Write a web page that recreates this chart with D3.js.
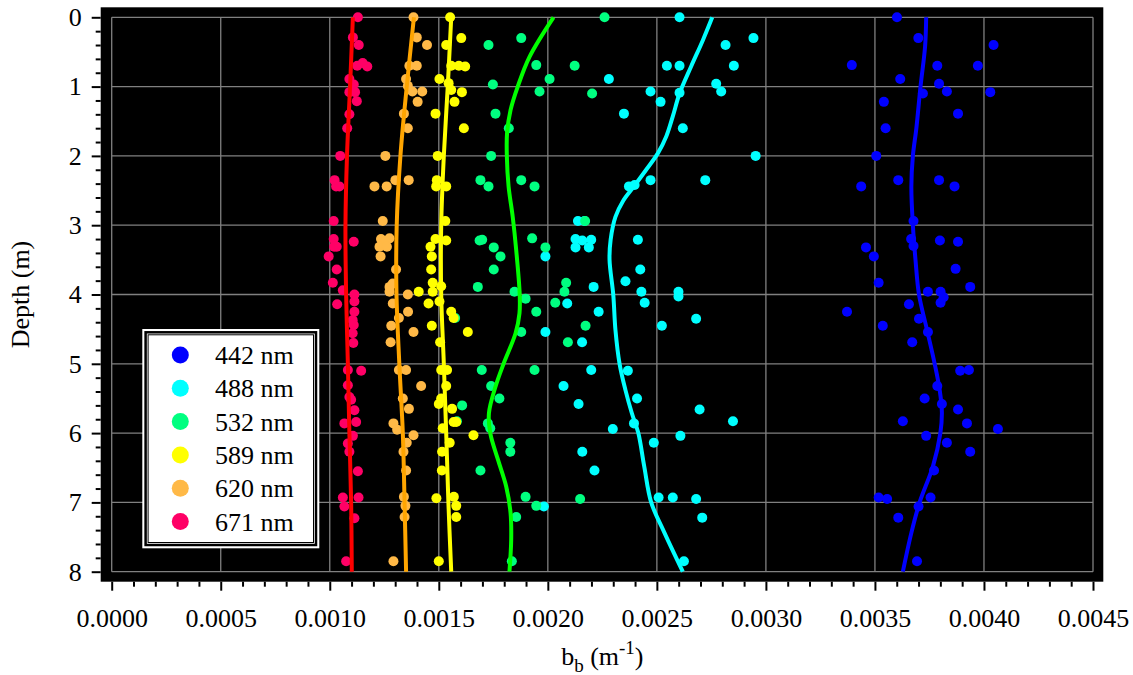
<!DOCTYPE html>
<html>
<head>
<meta charset="utf-8">
<script src="https://cdn.jsdelivr.net/npm/d3@7"></script>
<style>
  body { margin: 0; background: #ffffff; }
  svg text { font-family: "Liberation Serif", "Times New Roman", serif; fill: #000000; }
</style>
</head>
<body>
<script>
// b_b values are written in units of 1e-4 m^-1, depth in m: [depth, bb]
var BB_UNIT = 1e-4;

var wavelengths = ["442 nm", "488 nm", "532 nm", "589 nm", "620 nm", "671 nm"];
var pointColors = ["#0000ff", "#00ffff", "#00ff80", "#ffff00", "#ffb947", "#ff0066"];
var lineColors  = ["#0000ff", "#00ffff", "#00ff00", "#ffff00", "#ffa500", "#ff0000"];

var xTicks = [0, 0.0005, 0.0010, 0.0015, 0.0020, 0.0025, 0.0030, 0.0035, 0.0040, 0.0045];
var yTicks = [0, 1, 2, 3, 4, 5, 6, 7, 8];

var points442 = [
  [0,36.01],[0.30,36.99],[0.40,40.44],[0.69,33.94],[0.70,37.86],[0.70,39.72],[0.89,36.16],[0.96,37.94],
  [1.07,38.30],[1.10,37.20],[1.08,40.29],[1.22,35.41],[1.39,38.81],[1.60,35.49],[2.00,35.06],[2.35,36.07],
  [2.35,37.94],[2.44,34.37],[2.44,38.65],[2.94,36.77],[3.20,36.66],[3.30,36.77],[3.22,37.98],[3.24,38.81],
  [3.32,34.59],[3.45,34.95],[3.63,38.70],[3.83,35.17],[3.89,39.37],[3.96,37.43],[3.96,38.01],[4.04,38.15],
  [4.14,36.56],[4.12,38.01],[4.25,33.72],[4.35,37.02],[4.45,35.36],[4.54,37.43],[4.69,36.71],[5.10,38.91],
  [5.09,39.31],[5.32,37.86],[5.50,37.28],[5.58,38.07],[5.66,38.81],[5.83,36.28],[5.86,39.22],[5.94,40.64],
  [6.04,37.35],[6.14,38.30],[6.27,39.37],[6.54,37.71],[6.93,35.17],[6.95,35.56],[6.93,37.55],[7.06,37.00],
  [7.22,36.07],[7.85,36.93]
];
var points488 = [
  [0,26.04],[0.30,29.43],[0.40,28.15],[0.70,25.46],[0.70,26.04],[0.70,28.53],[0.89,22.80],[0.96,27.72],
  [1.07,27.95],[1.07,24.71],[1.09,26.04],[1.22,25.17],[1.39,23.49],[1.60,26.19],[2.00,29.53],[2.35,24.71],
  [2.35,27.22],[2.44,23.72],[2.42,23.98],[2.94,21.38],[2.94,21.68],[3.20,21.27],[3.22,21.58],[3.21,21.99],
  [3.21,24.13],[3.32,21.27],[3.32,21.88],[3.45,19.89],[3.64,24.24],[3.81,23.56],[3.89,22.10],[3.96,24.29],
  [3.96,25.99],[4.03,25.99],[4.13,20.89],[4.12,24.44],[4.25,22.33],[4.35,26.80],[4.45,25.23],[4.54,19.89],
  [4.69,21.57],[5.09,21.99],[5.10,23.67],[5.32,20.72],[5.50,24.09],[5.58,21.41],[5.66,26.96],[5.83,28.49],
  [5.86,23.95],[5.94,22.98],[6.04,26.08],[6.14,24.86],[6.27,21.58],[6.54,22.14],[6.93,25.08],[6.93,25.73],
  [6.95,26.80],[7.06,19.82],[7.22,27.08],[7.85,26.24]
];
var points532 = [
  [0,22.60],[0.30,18.78],[0.40,17.28],[0.69,19.47],[0.70,21.23],[0.89,20.08],[0.97,17.48],[1.07,19.62],
  [1.10,22.03],[1.39,17.60],[1.60,18.21],[2.00,17.40],[2.35,16.91],[2.35,18.78],[2.44,17.28],[2.44,19.39],
  [2.94,21.71],[3.22,16.87],[3.21,16.99],[3.19,19.28],[3.32,17.52],[3.32,19.89],[3.45,17.83],[3.64,17.52],
  [3.83,20.84],[3.89,16.79],[3.96,18.47],[3.96,20.76],[4.06,18.98],[4.12,20.34],[4.25,19.47],[4.34,15.75],
  [4.45,21.73],[4.54,18.78],[4.69,20.92],[5.09,16.97],[5.09,19.39],[5.32,17.40],[5.50,17.78],[5.60,16.07],
  [5.83,15.83],[5.86,17.25],[5.93,17.36],[6.14,18.28],[6.27,18.28],[6.54,16.91],[6.92,18.98],[6.95,21.48],
  [7.05,19.47],[7.21,18.55],[7.85,18.35]
];
var points589 = [
  [0,15.52],[0.30,16.03],[0.40,15.34],[0.70,15.57],[0.70,15.92],[0.71,16.21],[0.89,15.03],[0.95,15.45],
  [1.05,15.57],[1.08,16.06],[1.22,15.72],[1.39,14.85],[1.60,16.15],[2.00,14.95],[2.35,14.91],[2.44,14.88],
  [2.44,15.34],[2.94,15.30],[3.20,14.85],[3.22,15.34],[3.31,14.62],[3.45,14.68],[3.64,14.65],[3.83,14.72],
  [3.88,15.11],[3.96,14.08],[3.96,14.72],[4.10,15.03],[4.13,14.53],[4.25,15.57],[4.34,15.68],[4.45,14.68],
  [4.54,16.33],[4.69,15.06],[5.09,15.11],[5.09,15.38],[5.32,15.34],[5.50,15.11],[5.58,15.00],[5.65,15.61],
  [5.84,15.68],[5.84,15.80],[5.93,15.18],[6.03,16.59],[6.14,15.50],[6.27,15.15],[6.54,15.14],[6.94,14.89],
  [6.92,15.69],[7.05,15.80],[7.21,15.80],[7.85,15.00]
];
var points620 = [
  [0,13.84],[0.29,13.99],[0.40,14.46],[0.70,13.65],[0.70,13.99],[0.89,13.50],[0.99,13.58],[1.07,13.79],
  [1.07,14.24],[1.22,14.03],[1.39,13.40],[1.60,13.58],[2.00,12.55],[2.35,13.01],[2.35,13.62],[2.44,12.05],
  [2.44,12.61],[2.94,12.43],[3.20,12.35],[3.19,12.74],[3.24,12.55],[3.31,12.28],[3.31,12.62],[3.45,12.33],
  [3.64,13.04],[3.89,12.74],[3.84,12.89],[4.00,13.58],[3.96,12.74],[4.13,12.89],[4.34,13.17],[4.25,13.59],
  [4.45,12.82],[4.54,13.84],[4.69,12.79],[5.09,13.17],[5.09,13.50],[5.32,14.19],[5.50,13.35],[5.65,13.63],
  [5.86,12.92],[5.95,13.09],[6.03,13.84],[6.14,13.53],[6.27,13.38],[6.54,13.50],[6.92,13.40],[7.05,13.47],
  [7.21,13.43],[7.85,12.92]
];
var points671 = [
  [0,11.29],[0.29,11.06],[0.40,11.33],[0.70,11.26],[0.66,11.51],[0.71,11.72],[0.89,10.90],[0.97,11.10],
  [1.08,10.90],[1.08,11.16],[1.21,11.24],[1.40,10.90],[1.60,10.80],[2.00,10.48],[2.35,10.22],[2.44,10.29],
  [2.44,10.44],[2.94,10.18],[3.20,10.18],[3.24,11.10],[3.31,10.32],[3.31,10.20],[3.45,9.95],[3.64,10.32],
  [3.83,10.14],[3.94,10.60],[4.00,11.13],[4.14,10.34],[4.10,11.13],[4.25,11.13],[4.37,11.05],[4.44,11.10],
  [4.56,11.05],[4.70,11.08],[5.09,10.83],[5.10,11.44],[5.31,10.83],[5.48,10.90],[5.52,10.98],[5.67,11.13],
  [5.86,10.67],[5.84,11.21],[6.04,11.06],[6.15,10.83],[6.27,10.90],[6.55,11.29],[6.93,10.60],[7.06,10.67],
  [6.93,11.32],[7.23,11.13],[7.85,10.75]
];

// smooth profiles drawn through the scatter
var fit442 = [[0,37.35],[0.42,37.30],[1,37.09],[1.6,36.90],[2,36.74],[2.44,36.67],[3,36.74],[3.5,36.86],[4,37.02],
              [4.5,37.38],[5,37.74],[5.38,37.97],[5.7,38.07],[6,38.00],[6.48,37.66],[7,37.05],[7.44,36.67],[8,36.28]];
var fit488 = [[0,27.54],[0.33,27.11],[0.71,26.57],[1.1,26.04],[1.43,25.73],[1.72,25.43],[1.96,25.05],[2.2,24.51],
              [2.44,23.95],[2.65,23.45],[2.88,23.10],[3.21,22.88],[3.5,22.83],[4,23.00],[4.51,23.10],[5,23.29],
              [5.38,23.56],[5.71,23.85],[6,24.15],[6.48,24.42],[7,24.74],[7.44,25.35],[8,26.19]];
var fit532 = [[0,20.26],[0.57,19.16],[1,18.62],[1.34,18.29],[1.67,18.13],[2,18.12],[2.44,18.20],[2.88,18.39],
              [3.36,18.55],[4,18.71],[4.27,18.70],[4.56,18.52],[5,17.97],[5.33,17.60],[5.71,17.30],[6,17.36],
              [6.38,17.71],[6.77,18.09],[7.15,18.29],[7.54,18.32],[8,18.24]];
var fit589 = [[0,15.57],[1,15.41],[2,15.23],[3,15.11],[4,15.11],[5,15.23],[6,15.34],[7,15.44],[8,15.57]];
var fit620 = [[0,13.86],[1,13.53],[2,13.24],[3,13.07],[4,13.06],[5,13.19],[6,13.35],[7,13.43],[8,13.50]];
var fit671 = [[0,11.06],[1,10.93],[2,10.79],[3,10.72],[4,10.75],[5,10.83],[6,10.90],[7,10.98],[8,11.01]];

var allPoints = [points442, points488, points532, points589, points620, points671];
var allFits = [fit442, fit488, fit532, fit589, fit620, fit671];


var SVG_WIDTH = 1133;
var SVG_HEIGHT = 675;
var PLOT = {left: 111.7, right: 1093, top: 17.3, bottom: 571.7};
var FRAME = {left: 100.7, right: 1103.3, top: 7.3, bottom: 581.7};
var FONT_SIZE = "26px";

var svg, x, y;

function setupPlot()
{
  svg = d3.select("body").append("svg")
          .attr("width", SVG_WIDTH)
          .attr("height", SVG_HEIGHT);

  x = d3.scaleLinear().domain([0, 0.0045]).range([PLOT.left, PLOT.right]);
  y = d3.scaleLinear().domain([0, 8]).range([PLOT.top, PLOT.bottom]);

  svg.append("rect")
     .attr("x", FRAME.left)
     .attr("y", FRAME.top)
     .attr("width", FRAME.right - FRAME.left)
     .attr("height", FRAME.bottom - FRAME.top)
     .style("fill", "#000000");

  // grid
  var grid = svg.append("g").attr("id", "grid");
  grid.selectAll(".vgrid").data(xTicks).join("line")
      .attr("class", "vgrid")
      .attr("x1", d => x(d)).attr("x2", d => x(d))
      .attr("y1", PLOT.top).attr("y2", PLOT.bottom)
      .style("stroke", "#808080").style("stroke-width", 1.3);
  grid.selectAll(".hgrid").data(yTicks).join("line")
      .attr("class", "hgrid")
      .attr("x1", PLOT.left).attr("x2", PLOT.right)
      .attr("y1", d => y(d)).attr("y2", d => y(d))
      .style("stroke", "#808080").style("stroke-width", 1.3);
}

function styleAxis(g)
{
  g.select(".domain").remove();
  g.attr("font-family", null).attr("font-size", null);
  g.selectAll("line").style("stroke", "#000000").style("stroke-width", 2);
  g.selectAll("text").style("font-size", FONT_SIZE);
}

function setupAxes()
{
  var yMinor = d3.range(0, 41).filter(i => i % 5 != 0).map(i => i * 0.2);
  var xMinor = d3.range(0, 46).filter(i => i % 5 != 0).map(i => i * 0.0001);

  svg.append("g")
     .attr("transform", "translate(" + FRAME.left + ",0)")
     .call(d3.axisLeft(y).tickValues(yTicks).tickSize(9).tickPadding(10).tickFormat(d3.format("d")))
     .call(styleAxis);
  svg.append("g")
     .attr("transform", "translate(" + FRAME.left + ",0)")
     .call(d3.axisLeft(y).tickValues(yMinor).tickSize(5).tickFormat(""))
     .call(styleAxis);

  svg.append("g")
     .attr("transform", "translate(0," + FRAME.bottom + ")")
     .call(d3.axisBottom(x).tickValues(xTicks).tickSize(9).tickPadding(18).tickFormat(d3.format(".4f")))
     .call(styleAxis);
  svg.append("g")
     .attr("transform", "translate(0," + FRAME.bottom + ")")
     .call(d3.axisBottom(x).tickValues(xMinor).tickSize(5).tickFormat(""))
     .call(styleAxis);

  // axis titles
  var xTitle = svg.append("text")
                  .attr("x", (PLOT.left + PLOT.right) / 2)
                  .attr("y", 665)
                  .attr("text-anchor", "middle")
                  .style("font-size", FONT_SIZE);
  xTitle.append("tspan").text("b");
  xTitle.append("tspan").attr("dy", 7).style("font-size", "19px").text("b");
  xTitle.append("tspan").attr("dy", -7).text(" (m");
  xTitle.append("tspan").attr("dy", -11).style("font-size", "19px").text("-1");
  xTitle.append("tspan").attr("dy", 11).text(")");

  svg.append("text")
     .attr("transform", "translate(29," + ((PLOT.top + PLOT.bottom) / 2) + ") rotate(-90)")
     .attr("text-anchor", "middle")
     .style("font-size", FONT_SIZE)
     .text("Depth (m)");
}

function drawSeries()
{
  var dots = svg.append("g").attr("id", "dots");
  allPoints.forEach(function(pts, i)
  {
    dots.append("g").selectAll("circle").data(pts).join("circle")
        .attr("cx", d => x(d[1] * BB_UNIT))
        .attr("cy", d => y(d[0]))
        .attr("r", 5)
        .style("fill", pointColors[i]);
  });

  var line = d3.line()
               .x(d => x(d[1] * BB_UNIT))
               .y(d => y(d[0]))
               .curve(d3.curveCatmullRom.alpha(0.5));

  var fits = svg.append("g").attr("id", "fits");
  allFits.forEach(function(f, i)
  {
    fits.append("path")
        .attr("d", line(f))
        .style("fill", "none")
        .style("stroke", lineColors[i])
        .style("stroke-width", 4);
  });
}

function setupLegend()
{
  var legend = svg.append("g").attr("id", "legend");
  var lx = 142.3, ly = 329, lw = 177, lh = 219.3;

  legend.append("rect")
        .attr("x", lx).attr("y", ly).attr("width", lw).attr("height", lh)
        .style("fill", "#ffffff");
  legend.append("rect")
        .attr("x", lx + 3.3).attr("y", ly + 3.3).attr("width", lw - 6.6).attr("height", lh - 6.6)
        .style("fill", "none").style("stroke", "#000000").style("stroke-width", 2.5);
  legend.append("rect")
        .attr("x", lx + 5.8).attr("y", ly + 5.8).attr("width", lw - 11.6).attr("height", lh - 11.6)
        .style("fill", "none").style("stroke", "#000000").style("stroke-width", 1);

  var rows = legend.selectAll(".legend_row").data(wavelengths).join("g")
                   .attr("class", "legend_row")
                   .attr("transform", (d, i) => "translate(0," + (355 + i * 33.3) + ")");
  rows.append("circle")
      .attr("cx", 180.3).attr("cy", 0).attr("r", 8.5)
      .style("fill", (d, i) => pointColors[i]);
  rows.append("text")
      .attr("x", 215).attr("dy", "0.35em")
      .style("font-size", FONT_SIZE)
      .text(d => d);
}

setupPlot();
setupAxes();
drawSeries();
setupLegend();
</script>
</body>
</html>
